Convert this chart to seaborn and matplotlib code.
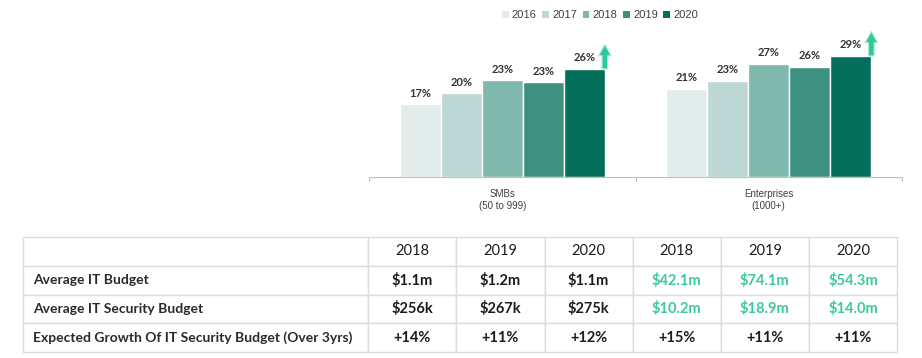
import matplotlib
matplotlib.use('Agg')
import matplotlib.pyplot as plt
import seaborn as sns
import pandas as pd
from matplotlib.patches import Patch

# bar chart data (share of IT budget spent on security)
segments = ['SMBs\n(50 to 999)', 'Enterprises\n(1000+)']
years = ['2016', '2017', '2018', '2019', '2020']
smb_pct = [17.4, 20.0, 23.1, 22.6, 25.8]
ent_pct = [21.0, 22.9, 27.0, 26.3, 28.9]
bar_colors = ['#e2edeb', '#bdd8d4', '#7fb8ad', '#3e9080', '#036f5a']

# table data
table_years = ['2018', '2019', '2020']
row_labels = ['Average IT Budget', 'Average IT Security Budget',
              'Expected Growth Of IT Security Budget (Over 3yrs)']
it_budget_smb = ['$1.1m', '$1.2m', '$1.1m']
it_budget_ent = ['$42.1m', '$74.1m', '$54.3m']
sec_budget_smb = ['$256k', '$267k', '$275k']
sec_budget_ent = ['$10.2m', '$18.9m', '$14.0m']
growth_smb = ['+14%', '+11%', '+12%']
growth_ent = ['+15%', '+11%', '+11%']

teal = '#3cc8a0'
dark = '#1c1c1c'

sns.set_style('white')
plt.rcParams['font.family'] = ['Liberation Sans', 'DejaVu Sans']

df = pd.DataFrame({
    'segment': [segments[0]] * 5 + [segments[1]] * 5,
    'year': years * 2,
    'pct': smb_pct + ent_pct,
})

fig = plt.figure(figsize=(9.22, 3.58), dpi=100)
ax = fig.add_axes([369 / 922, 181 / 358, 533 / 922, 150 / 358])

sns.barplot(data=df, x='segment', y='pct', hue='year', hue_order=years,
            palette=bar_colors, width=0.77, saturation=1, legend=False, ax=ax)

ax.set_ylim(0, 150 / 4.19)
ax.set_xlim(-0.5, 1.5)
ax.set_xlabel('')
ax.set_ylabel('')
ax.set_yticks([])
for s in ['left', 'top', 'right']:
    ax.spines[s].set_visible(False)
ax.spines['bottom'].set_color('#bfbfbf')
ax.spines['bottom'].set_linewidth(0.8)

ax.set_xticks([0, 1])
ax.set_xticklabels(segments, fontsize=7, color='#404040', linespacing=1.25)
ax.set_xticks([-0.5, 0.5, 1.5], minor=True)
ax.tick_params(axis='x', which='both', bottom=True)
ax.tick_params(axis='x', which='major', length=0, pad=9)
ax.tick_params(axis='x', which='minor', length=3, width=0.8, color='#bfbfbf')

for cont in ax.containers:
    ax.bar_label(cont, labels=[f'{b.get_height():.0f}%' for b in cont],
                 padding=4, fontsize=8, color='#333333', fontweight='bold',
                 family=['Lato', 'DejaVu Sans'])

# green up arrows next to the 2020 bars
for b in ax.containers[-1]:
    x = b.get_x() + b.get_width()
    y = b.get_height()
    ax.annotate('', xy=(x, y + 5.8), xytext=(x, y), annotation_clip=False,
                arrowprops=dict(arrowstyle='simple,head_length=0.8,head_width=0.9,tail_width=0.4',
                                fc='#2dc99b', ec='#a8ecd6', lw=0.8,
                                shrinkA=0, shrinkB=0))

handles = [Patch(facecolor=c, edgecolor='none') for c in bar_colors]
fig.legend(handles, years, loc='center', bbox_to_anchor=(600 / 922, 1 - 15 / 358),
           ncol=5, frameon=False, fontsize=8, handlelength=0.6, handleheight=0.6,
           handletextpad=0.3, columnspacing=0.5, labelcolor='#404040')

# table
tax = fig.add_axes([23 / 922, 6 / 358, 874 / 922, 115 / 358])
tax.axis('off')
cells = [[''] + table_years + table_years,
         [row_labels[0]] + it_budget_smb + it_budget_ent,
         [row_labels[1]] + sec_budget_smb + sec_budget_ent,
         [row_labels[2]] + growth_smb + growth_ent]
col_w = [345] + [88] * 6
tbl = tax.table(cellText=cells, colWidths=[w / sum(col_w) for w in col_w],
                cellLoc='center', bbox=[0, 0, 1, 1])
tbl.auto_set_font_size(False)
for (r, c), cell in tbl.get_celld().items():
    cell.set_edgecolor('#dcdcdc')
    cell.set_linewidth(1)
    txt = cell.get_text()
    txt.set_family(['Lato', 'DejaVu Sans'])
    txt.set_color(dark)
    if c == 0:
        cell._loc = 'left'
        cell.PAD = 0.03
        txt.set_ha('left')
        txt.set_fontsize(10)
        txt.set_fontweight('bold')
        txt.set_color('#2a2a2a')
    elif r == 0:
        txt.set_fontsize(10.5)
    else:
        txt.set_fontsize(10.5)
        txt.set_fontweight('bold')
        if r in (1, 2) and c >= 4:
            txt.set_color(teal)

fig.savefig('out.png', dpi=100)
